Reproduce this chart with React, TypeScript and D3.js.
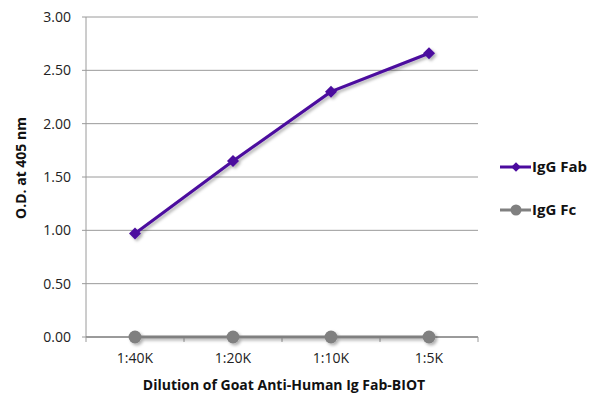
import React, {useEffect, useRef} from 'react';
import * as d3 from 'd3';

const categories = ['1:40K', '1:20K', '1:10K', '1:5K'];
const fabValues = [0.97, 1.65, 2.3, 2.66];
const fcValues = [0, 0, 0, 0];
const yTicks = [0, 0.5, 1, 1.5, 2, 2.5, 3];
const seriesNames = ['IgG Fab', 'IgG Fc'];

const WIDTH = 600;
const HEIGHT = 409;
const FONT = '"Open Sans", "Noto Sans", sans-serif';

const App = () => {
  const ref = useRef<SVGSVGElement>(null);

  useEffect(() => {
    const svg = d3.select(ref.current);
    svg.selectAll('*').remove();

    const margin = {top: 17, left: 86, right: 122, bottom: 72};
    const w = WIDTH - margin.left - margin.right;
    const h = HEIGHT - margin.top - margin.bottom;

    // drop shadow for the lines
    const defs = svg.append('defs');
    const filter = defs.append('filter').attr('id', 'shadow').attr('x', '-10%').attr('y', '-10%').attr('width', '130%').attr('height', '140%');
    filter.append('feDropShadow').attr('dx', 2).attr('dy', 2).attr('stdDeviation', 1.5).attr('flood-color', '#000').attr('flood-opacity', 0.3);

    const g = svg.append('g').attr('transform', `translate(${margin.left},${margin.top})`);

    const x = d3.scaleBand<string>().domain(categories).range([0, w]);
    const y = d3.scaleLinear().domain([0, 3]).range([h, 0]);
    const cx = (c: string) => (x(c) as number) + x.bandwidth() / 2;

    // gridlines
    g.append('g')
      .selectAll('line')
      .data(yTicks)
      .enter()
      .append('line')
      .attr('x1', -4)
      .attr('x2', w)
      .attr('y1', d => y(d))
      .attr('y2', d => y(d))
      .attr('stroke', '#9a9a9a')
      .attr('stroke-width', 1);

    // y axis line
    g.append('line').attr('x1', 0).attr('x2', 0).attr('y1', 0).attr('y2', h).attr('stroke', '#9a9a9a');

    // x axis with ticks at band edges
    g.append('line').attr('x1', 0).attr('x2', w).attr('y1', h).attr('y2', h).attr('stroke', '#8a8a8a').attr('stroke-width', 1.5);
    const edges = categories.map(c => x(c) as number).concat([w]);
    g.append('g')
      .selectAll('line')
      .data(edges)
      .enter()
      .append('line')
      .attr('x1', d => d)
      .attr('x2', d => d)
      .attr('y1', h)
      .attr('y2', h + 5)
      .attr('stroke', '#9a9a9a');

    // y tick labels
    g.append('g')
      .selectAll('text')
      .data(yTicks)
      .enter()
      .append('text')
      .attr('x', -15)
      .attr('y', d => y(d))
      .attr('dy', '0.35em')
      .attr('text-anchor', 'end')
      .style('font-family', FONT)
      .style('font-size', '14px')
      .attr('fill', '#222')
      .text(d => d3.format('.2f')(d));

    // x tick labels
    g.append('g')
      .selectAll('text')
      .data(categories)
      .enter()
      .append('text')
      .attr('x', d => cx(d))
      .attr('y', h + 26)
      .attr('text-anchor', 'middle')
      .style('font-family', FONT)
      .style('font-size', '14px')
      .attr('fill', '#222')
      .text(d => d);

    // axis titles
    g.append('text')
      .attr('x', w / 2 + 2)
      .attr('y', h + 53)
      .attr('text-anchor', 'middle')
      .style('font-family', FONT)
      .style('font-size', '14px')
      .style('font-weight', 'bold')
      .attr('fill', '#111')
      .text('Dilution of Goat Anti-Human Ig Fab-BIOT');

    g.append('text')
      .attr('transform', `translate(${-60},${151}) rotate(-90)`)
      .attr('text-anchor', 'middle')
      .style('font-family', FONT)
      .style('font-size', '14px')
      .style('font-weight', 'bold')
      .attr('fill', '#111')
      .text('O.D. at 405 nm');

    const line = d3
      .line<number>()
      .x((_, i) => cx(categories[i]))
      .y(d => y(d));

    const series = [
      {name: seriesNames[0], values: fabValues, color: '#4b0a9e', shape: 'diamond'},
      {name: seriesNames[1], values: fcValues, color: '#808080', shape: 'circle'},
    ];

    // draw Fc first so Fab sits on top
    [...series].reverse().forEach(s => {
      const sg = g.append('g').attr('filter', 'url(#shadow)');
      sg.append('path')
        .datum(s.values)
        .attr('d', line)
        .attr('fill', 'none')
        .attr('stroke', s.color)
        .attr('stroke-width', 3);
      const sym = d3
        .symbol()
        .type(s.shape === 'diamond' ? d3.symbolSquare : d3.symbolCircle)
        .size(s.shape === 'diamond' ? 72 : 130);
      sg.selectAll('path.m')
        .data(s.values)
        .enter()
        .append('path')
        .attr('class', 'm')
        .attr('d', sym)
        .attr('transform', (d, i) => `translate(${cx(categories[i])},${y(d)})${s.shape === 'diamond' ? ' rotate(45)' : ''}`)
        .attr('fill', s.color);
    });

    // legend
    const legend = svg.append('g').attr('transform', `translate(500,167)`);
    series.forEach((s, i) => {
      const lg = legend.append('g').attr('transform', `translate(0,${i * 43})`);
      lg.append('line').attr('x1', 0).attr('x2', 31).attr('y1', 0).attr('y2', 0).attr('stroke', s.color).attr('stroke-width', 3);
      const sym = d3
        .symbol()
        .type(s.shape === 'diamond' ? d3.symbolSquare : d3.symbolCircle)
        .size(s.shape === 'diamond' ? 45 : 95);
      lg.append('path')
        .attr('d', sym)
        .attr('transform', `translate(16,0)${s.shape === 'diamond' ? ' rotate(45)' : ''}`)
        .attr('fill', s.color);
      lg.append('text')
        .attr('x', 32)
        .attr('y', 0)
        .attr('dy', '0.35em')
        .style('font-family', FONT)
        .style('font-size', '15px')
        .style('font-weight', 'bold')
        .attr('fill', '#111')
        .text(s.name);
    });
  }, []);

  return (
    <svg
      ref={ref}
      width={WIDTH}
      height={HEIGHT}
      style={{position: 'absolute', left: 0, top: 0, background: '#fff'}}
    />
  );
};

export default App;
